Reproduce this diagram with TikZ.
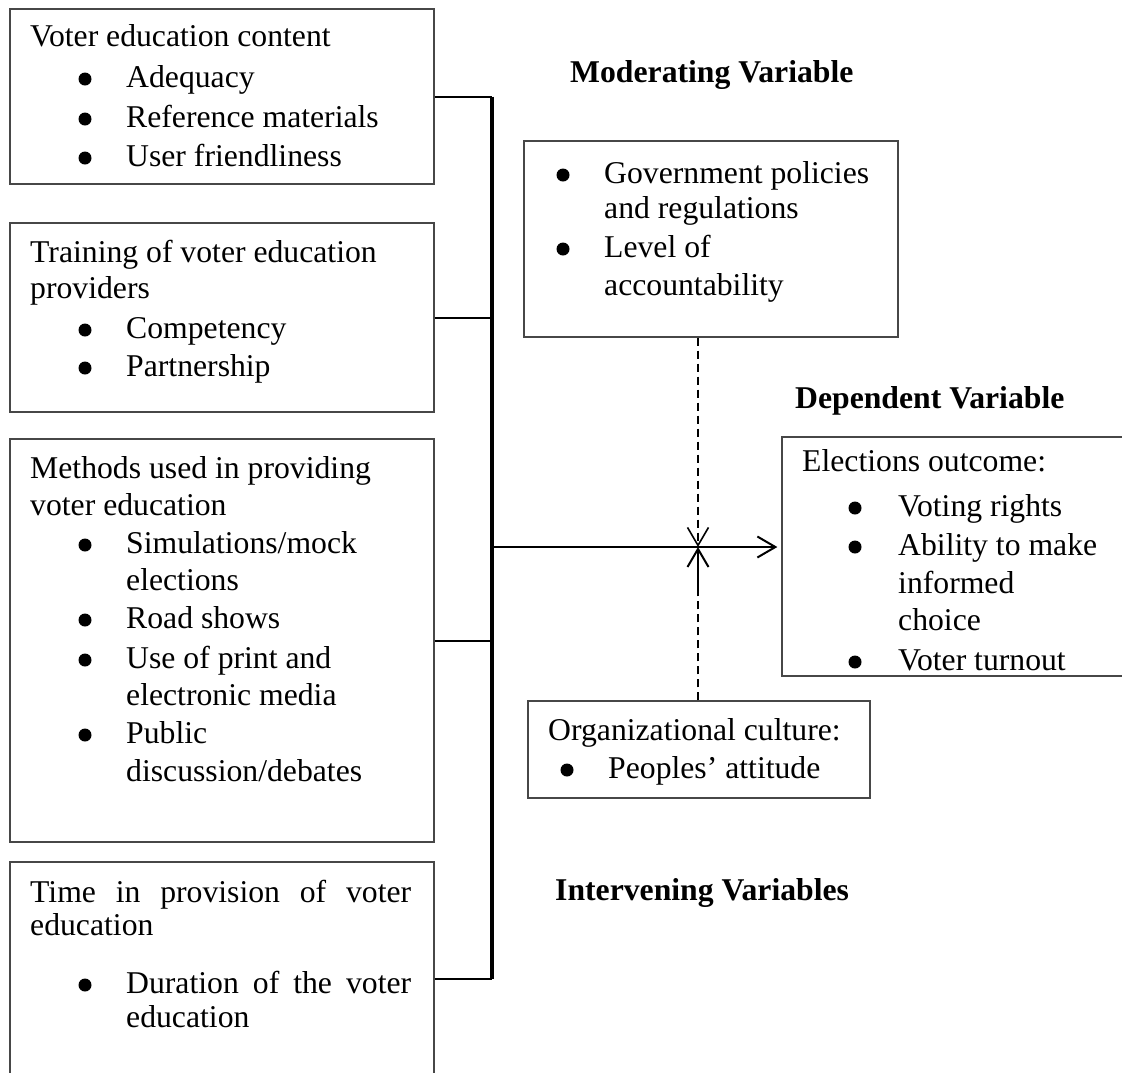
\documentclass[tikz,border=0pt]{standalone}
\usepackage{fontspec}
\setmainfont{Liberation Serif}
\usetikzlibrary{arrows.meta}
\tikzset{
  txt/.style={font=\fontsize{31.7}{38}\selectfont, inner sep=0pt, anchor=base west},
  ttl/.style={txt, font=\fontsize{31.7}{38}\selectfont\bfseries},
  dot/.style={circle, fill=black, inner sep=0pt, minimum size=13pt},
  box/.style={draw=black!72, line width=1.3pt, inner sep=0pt},
  conn/.style={draw=black, line width=2pt},
  busln/.style={draw=black, line width=3.2pt},
  dashln/.style={draw=black, line width=1.6pt, dash pattern=on 8pt off 5pt},
  barb/.style={-{Straight Barb[length=18pt,width=21pt]}}
}
\newcommand\tline[4]{\node[txt] (#1) at (#2,#3) {#4};}
% bullet line: name, bullet centre x, text x, baseline y, text
\newcommand\bline[5]{\node[dot] (#1b) at (#2,#4-8) {};
  \node[txt] (#1) at (#3,#4) {#5};}
\begin{document}
\begin{tikzpicture}[x=1pt,y=-1pt]
\useasboundingbox (0,0) rectangle (1122,1072);

% ---------- left boxes ----------
\node[box, minimum width=424pt, minimum height=175pt] (b1) at (222,96.5) {};
\node[box, minimum width=424pt, minimum height=189pt] (b2) at (222,317.5) {};
\node[box, minimum width=424pt, minimum height=403pt] (b3) at (222,640.5) {};
\node[box, minimum width=424pt, minimum height=233pt] (b4) at (222,978.5) {};

\tline{b1t}{30}{46}{Voter education content}
\bline{b1a}{85}{126}{87}{Adequacy}
\bline{b1c}{85}{126}{127}{Reference materials}
\bline{b1d}{85}{126}{166}{User friendliness}

\tline{b2t}{30}{262}{Training of voter education}
\tline{b2u}{30}{298}{providers}
\bline{b2a}{85}{126}{338}{Competency}
\bline{b2c}{85}{126}{376}{Partnership}

\tline{b3t}{30}{478}{Methods used in providing}
\tline{b3u}{30}{515}{voter education}
\bline{b3a}{85}{126}{553}{Simulations/mock}
\tline{b3a2}{126}{590}{elections}
\bline{b3c}{85}{126}{628}{Road shows}
\bline{b3d}{85}{126}{668}{Use of print and}
\tline{b3d2}{126}{705}{electronic media}
\bline{b3e}{85}{126}{743}{Public}
\tline{b3e2}{126}{781}{discussion/debates}

\tline{b4t}{30}{902}{\makebox[381pt][s]{Time in provision of voter}}
\tline{b4u}{30}{935}{education}
\bline{b4a}{85}{126}{993}{\makebox[285pt][s]{Duration of the voter}}
\tline{b4a2}{126}{1027}{education}

% ---------- moderating ----------
\node[ttl] (modt) at (570,82) {Moderating Variable};
\node[box, minimum width=374pt, minimum height=196pt] (mod) at (711,239) {};
\bline{m1}{563}{604}{183}{Government policies}
\tline{m1b2}{604}{218}{and regulations}
\bline{m2}{563}{604}{257}{Level of}
\tline{m2b2}{604}{295}{accountability}

% ---------- dependent ----------
\node[ttl] (dept) at (795,408) {Dependent Variable};
\node[box, minimum width=348pt, minimum height=239pt] (dep) at (956,556.5) {};
\begin{scope}
\clip (782,437) rectangle (1122,674);
\tline{d0}{802}{471}{Elections outcome:}
\bline{d1}{855}{898}{516}{Voting rights}
\bline{d2}{855}{898}{555}{Ability to make}
\tline{d2b}{898}{593}{informed}
\tline{d2c}{898}{630}{choice}
\bline{d3}{855}{898}{670}{Voter turnout}
\end{scope}

% ---------- intervening ----------
\node[box, minimum width=342pt, minimum height=97pt] (org) at (699,749.5) {};
\tline{o0}{548}{740}{Organizational culture:}
\bline{o1}{567}{608}{778}{Peoples’ attitude}
\node[ttl] (intt) at (555,900) {Intervening Variables};

% ---------- connectors ----------
\coordinate (bus) at (492,0);
\coordinate (J) at (698,547);
\coordinate (Js) at (698,590);
\draw[conn] (b1.east) -- (b1.east -| bus);
\draw[conn] (b2.east) -- (b2.east -| bus);
\draw[conn] (b3.east) -- (b3.east -| bus);
\draw[conn] (b4.east) -- (b4.east -| bus);
\draw[busln] (bus |- b1.east) -- (bus |- b4.east);
\draw[conn, barb] (bus |- J) -- ([xshift=-4pt]dep.west |- J);
\draw[dashln, barb] (J |- mod.south) -- (J);
\draw[dashln] (J |- org.north) -- (Js);
\draw[conn, barb] (Js) -- (J);
\end{tikzpicture}
\end{document}
